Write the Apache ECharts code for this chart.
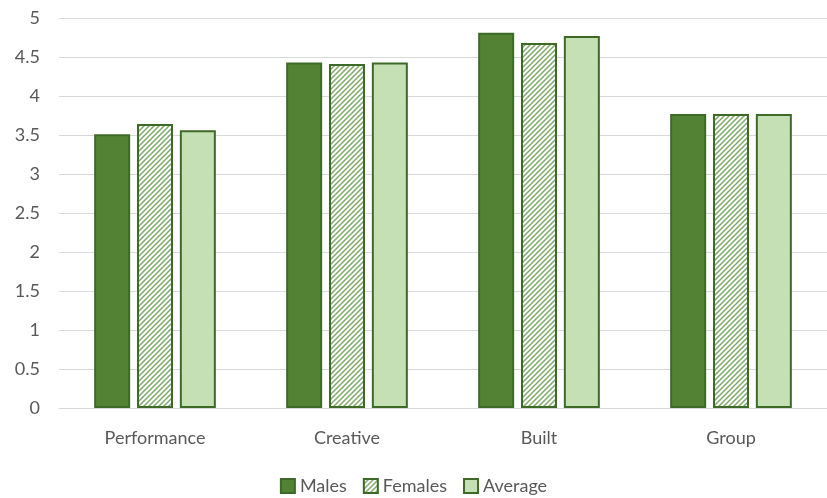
<!DOCTYPE html>
<html>
<head>
<meta charset="utf-8">
<script src="https://cdn.jsdelivr.net/npm/echarts@6/dist/echarts.min.js"></script>
<style>
  html, body { margin: 0; padding: 0; background: #fff; }
  #main { width: 827px; height: 498px; }
</style>
</head>
<body>
<div id="main"></div>
<script>
var categories = ['Performance', 'Creative', 'Built', 'Group'];
var males = [3.51, 4.43, 4.81, 3.77];
var females = [3.64, 4.41, 4.68, 3.77];
var average = [3.56, 4.43, 4.77, 3.77];
var yTicks = [0, 0.5, 1, 1.5, 2, 2.5, 3, 3.5, 4, 4.5, 5];

// hatch fill for females
function hatch() {
    var c = document.createElement('canvas');
    c.width = 5; c.height = 5;
    var ctx = c.getContext('2d');
    ctx.fillStyle = '#ffffff';
    ctx.fillRect(0, 0, 5, 5);
    ctx.strokeStyle = '#7ea866';
    ctx.lineWidth = 1.5;
    ctx.beginPath();
    ctx.moveTo(-1, 6); ctx.lineTo(6, -1);
    ctx.moveTo(-1, 1); ctx.lineTo(1, -1);
    ctx.moveTo(4, 6); ctx.lineTo(6, 4);
    ctx.stroke();
    return c;
}
var hatchFill = { image: hatch(), repeat: 'repeat' };

var font = 'Lato';
var chart = echarts.init(document.getElementById('main'));
var border = '#3d6b27';

chart.setOption({
    animation: false,
    textStyle: { fontFamily: font },
    grid: { left: 59, width: 777, top: 18, bottom: 90 },
    legend: {
        top: 472,
        icon: 'rect',
        itemWidth: 14, itemHeight: 14, itemGap: 16,
        textStyle: { color: '#595959', fontSize: 18, fontFamily: font },
        data: ['Males', 'Females', 'Average']
    },
    xAxis: {
        type: 'category',
        data: categories,
        axisTick: { show: false },
        axisLine: { lineStyle: { color: '#d9d9d9', width: 1 } },
        axisLabel: { color: '#595959', fontSize: 18, margin: 21 }
    },
    yAxis: {
        type: 'value',
        min: yTicks[0], max: yTicks[yTicks.length - 1], interval: 0.5,
        axisLine: { show: false },
        axisTick: { show: false },
        axisLabel: { color: '#595959', fontSize: 18, margin: 19 },
        splitLine: { lineStyle: { color: '#d9d9d9', width: 1 } }
    },
    series: [
        {
            name: 'Males', type: 'bar', data: males,
            barWidth: 36, barGap: '19%',
            itemStyle: { color: '#548235', borderColor: border, borderWidth: 2 }
        },
        {
            name: 'Females', type: 'bar', data: females,
            barWidth: 36, barGap: '19%',
            itemStyle: { color: hatchFill, borderColor: border, borderWidth: 2 }
        },
        {
            name: 'Average', type: 'bar', data: average,
            barWidth: 36, barGap: '19%',
            itemStyle: { color: '#c5e0b4', borderColor: border, borderWidth: 2 }
        }
    ]
});
</script>
</body>
</html>
